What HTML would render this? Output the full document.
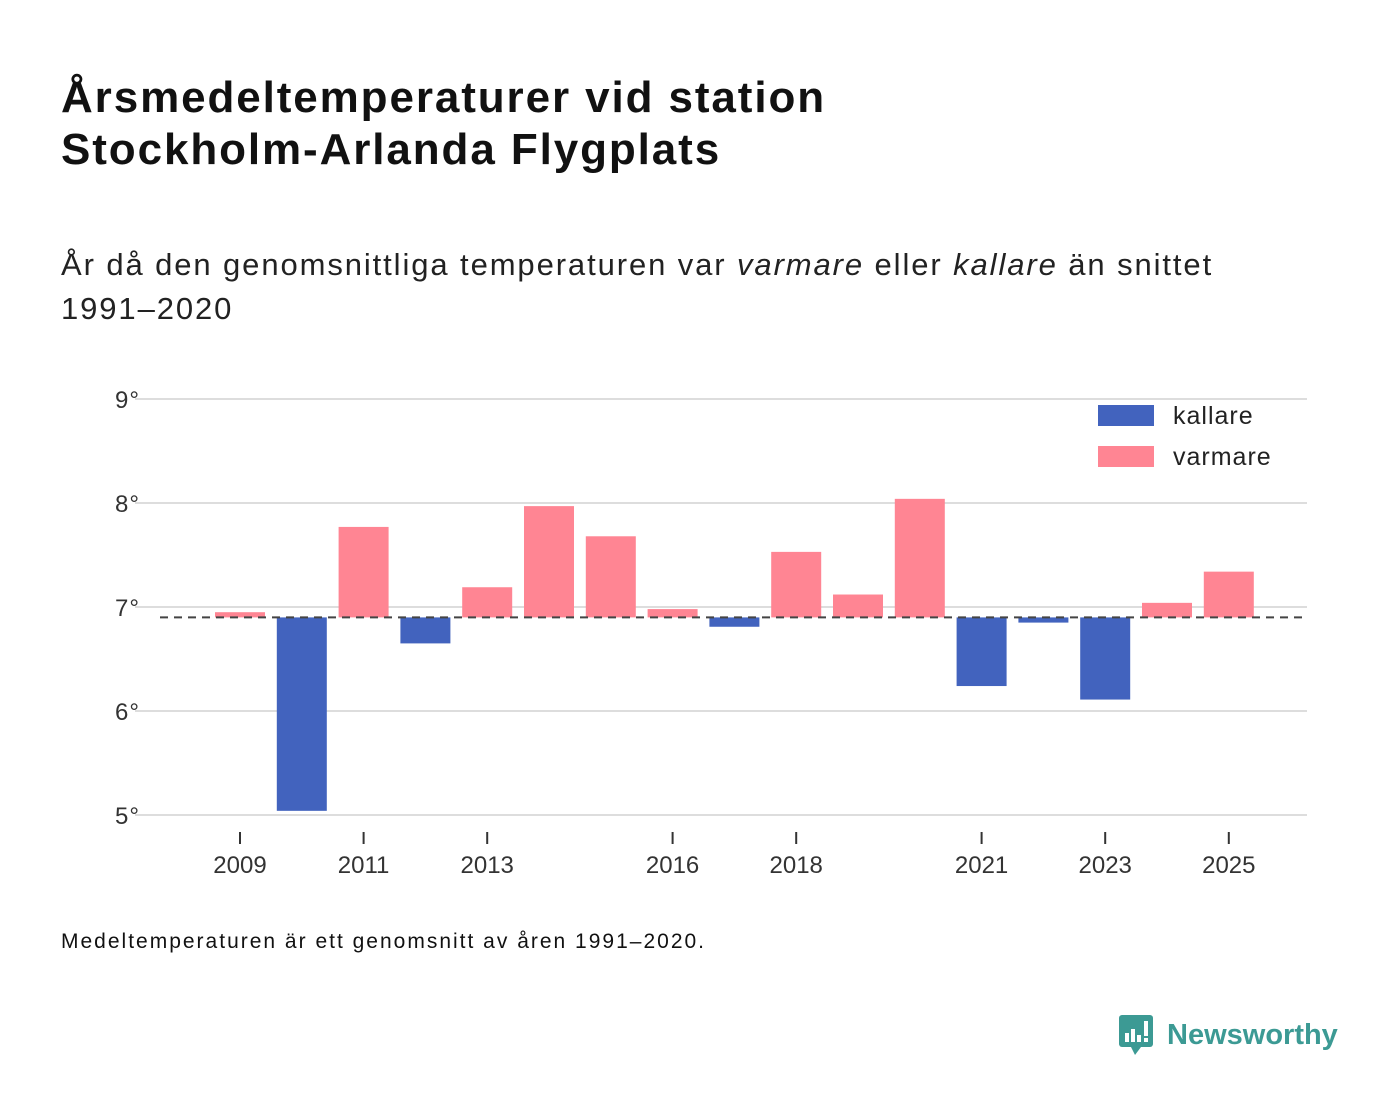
<!DOCTYPE html>
<html><head><meta charset="utf-8"><style>
body{margin:0;width:1400px;height:1116px;background:#fff;font-family:"Liberation Sans","DejaVu Sans",sans-serif;position:relative;overflow:hidden}
.t{position:absolute;left:61px;margin:0}
</style></head><body>
<h1 class="t" style="top:72px;font-size:44px;line-height:52px;font-weight:bold;color:#111;letter-spacing:1.9px">Årsmedeltemperaturer vid station<br>Stockholm-Arlanda Flygplats</h1>
<p class="t" style="top:243px;font-size:31px;line-height:44px;color:#222;letter-spacing:1.9px">År då den genomsnittliga temperaturen var <i>varmare</i> eller <i>kallare</i> än snittet<br>1991–2020</p>
<svg id="c" width="1400" height="1116" style="position:absolute;left:0;top:0"></svg>
<p class="t" style="top:930px;font-size:21px;color:#111;letter-spacing:2px">Medeltemperaturen är ett genomsnitt av åren 1991–2020.</p>
<div style="position:absolute;left:1119px;top:1013px;display:flex;align-items:center">
<svg width="36" height="44"><rect x="0" y="2" width="34" height="32" rx="3" fill="#3c9a94"/><polygon points="12,34 22,34 16,42" fill="#3c9a94"/><rect x="6" y="20" width="4" height="9" fill="#fff"/><rect x="12" y="16" width="4" height="13" fill="#fff"/><rect x="18" y="22" width="4" height="7" fill="#fff"/><rect x="25" y="8" width="4" height="15" fill="#fff"/><rect x="25" y="25" width="4" height="4" fill="#fff"/></svg>
<span style="font-size:29px;font-weight:bold;color:#3c9a94;margin-left:12px">Newsworthy</span></div>
<script>
const years=[2009,2010,2011,2012,2013,2014,2015,2016,2017,2018,2019,2020,2021,2022,2023,2024,2025];
const temps=[6.95,5.04,7.77,6.65,7.19,7.97,7.68,6.98,6.81,7.53,7.12,8.04,6.24,6.85,6.11,7.04,7.34];
const baseline=6.9;
const yTicks=[5,6,7,8,9];
const xTicks=[2009,2011,2013,2016,2018,2021,2023,2025];
const NS="http://www.w3.org/2000/svg",svg=document.getElementById('c');
const y=v=>815-(v-5)*104, x=yr=>240+(yr-2009)*61.8;
function mk(t,a,txt){const e=document.createElementNS(NS,t);for(const k in a)e.setAttribute(k,a[k]);if(txt!==undefined)e.textContent=txt;svg.appendChild(e);return e;}
yTicks.forEach(v=>{
 const g=mk('line',{x1:135,x2:1307,y1:y(v),y2:y(v),stroke:'#ddd','stroke-width':2});
 
 
 const t=mk('text',{x:140,y:y(v)+9,'text-anchor':'end','font-size':24,fill:'#333','letter-spacing':1},v+'°');
 
 
});
years.forEach((yr,i)=>{
 const v=temps[i],top=Math.min(y(v),y(baseline)),h=Math.abs(y(v)-y(baseline));
 const r=mk('rect',{x:x(yr)-25,y:top,width:50,height:h,fill:v<baseline?'#4263be':'#ff8593'});
 
 
});
const bl=mk('line',{x1:160,x2:1307,y1:y(baseline),y2:y(baseline),stroke:'#444','stroke-width':2,'stroke-dasharray':'8,6'});


xTicks.forEach(yr=>{
 const l=mk('line',{x1:x(yr),x2:x(yr),y1:832,y2:844,stroke:'#333','stroke-width':2});
 
 
 const t=mk('text',{x:x(yr),y:873,'text-anchor':'middle','font-size':24,fill:'#333'},yr);
 
 
});
const lb=mk('rect',{x:1088,y:400,width:219,height:76,fill:'#fff'});


[['kallare','#4263be',405],['varmare','#ff8593',446]].forEach(([n,c,yy])=>{
 const r=mk('rect',{x:1098,y:yy,width:56,height:21,fill:c});
 
 
 const t=mk('text',{x:1173,y:yy+19,'font-size':25,fill:'#222','letter-spacing':1},n);
 
 
});
</script>
</body></html>
